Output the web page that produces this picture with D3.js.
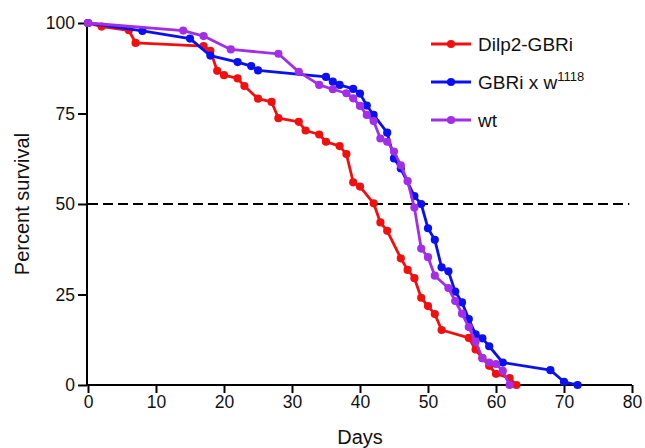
<!DOCTYPE html>
<html>
<head>
<meta charset="utf-8">
<script src="https://cdn.jsdelivr.net/npm/d3@7"></script>
<style>
  body { margin: 0; background: #fff; }
  svg text { font-family: Arial, "Liberation Sans", sans-serif; fill: #111; }
</style>
</head>
<body>
<div id="chart"></div>
<script>

// days / percent survival
const dilpDays = [0, 2, 6, 7, 17, 18, 19, 20, 22, 23, 25, 27, 28, 31, 32, 34, 35, 37, 38, 39, 40, 42, 43, 44, 46, 47, 48, 49, 50, 51, 52, 56, 57, 58, 59, 60, 62, 63];
const dilpSurv = [100, 99, 98, 94.5, 93.6, 92.3, 86.8, 85.6, 84.7, 82.6, 79.1, 78.2, 73.7, 72.7, 70.3, 69.2, 67.2, 66, 63.8, 56, 54.8, 50.2, 44.9, 42.6, 35, 31.8, 29.5, 24.1, 21.8, 19.6, 15.2, 13, 9.8, 7.4, 5.3, 3.1, 1.9, 0];

const gbriDays = [0, 8, 15, 18, 22, 24, 25, 35, 36, 37, 39, 40, 41, 42, 44, 45, 46, 48, 49, 50, 51, 52, 53, 54, 55, 56, 57, 58, 59, 61, 68, 70, 72];
const gbriSurv = [100, 97.8, 95.7, 91, 89.2, 88.1, 86.9, 85.1, 83.8, 82.9, 81.8, 80.5, 77.2, 74.6, 69.7, 62.6, 59.8, 52.2, 50, 43.3, 40.1, 32.5, 31.4, 25.8, 22.8, 18.2, 14, 12.9, 10.7, 6.2, 4.1, 0.9, 0];

const wtDays = [0, 14, 17, 21, 28, 31, 34, 36, 38, 39, 40, 41, 42, 43, 44, 45, 46, 47, 48, 49, 50, 51, 53, 54, 55, 56, 57, 58, 59, 60, 61, 62];
const wtSurv = [100, 97.9, 96.4, 92.7, 91.5, 86.5, 82.9, 81.7, 80.6, 79.2, 77.1, 74.6, 72.9, 68.1, 67.2, 64.5, 60.7, 56.3, 49, 37.7, 35.3, 30.2, 26.8, 23.2, 19.7, 16, 12, 7.4, 6.2, 5.8, 3.9, 0];

const xTicks = [0, 10, 20, 30, 40, 50, 60, 70, 80];
const yTicks = [0, 25, 50, 75, 100];
const medianLine = 50;

const seriesNames  = ['Dilp2-GBRi', 'GBRi x w', 'wt'];
const seriesColors = ['#f01010', '#0a10f0', '#a22ee6'];

class SurvivalChart {

  constructor(_config) {
    this.config = {
      parentElement : _config.parentElement,
      width         : 645,
      height        : 448,
      margin        : { t: 23, r: 13, b: 63, l: 88 }
    };
    this.series = _config.series;
    this.initVis();
  }

  initVis() {
    const { width, height, margin } = this.config;
    this.svg = d3.select(this.config.parentElement)
                 .append('svg')
                 .attr('width', width)
                 .attr('height', height);

    this.x = d3.scaleLinear()
               .domain([0, 80])
               .range([margin.l, width - margin.r]);
    this.y = d3.scaleLinear()
               .domain([0, 100])
               .range([height - margin.b, margin.t]);
  }

  updateVis() {
    const { x, y } = this;
    const { height } = this.config;

    // dashed 50% line
    this.svg.append('line')
        .attr('x1', x(0)).attr('x2', x(79.6))
        .attr('y1', y(medianLine)).attr('y2', y(medianLine))
        .attr('stroke', '#000')
        .attr('stroke-width', 2)
        .attr('stroke-dasharray', '10,5');

    // ----- AXES -----
    const xAxis = this.svg.append('g')
        .attr('transform', `translate(0,${y(0)})`)
        .call(d3.axisBottom(x).tickValues(xTicks).tickSize(8).tickPadding(3));
    const yAxis = this.svg.append('g')
        .attr('transform', `translate(${x(0) - 1},0)`)
        .call(d3.axisLeft(y).tickValues(yTicks).tickSize(9).tickPadding(3));

    [xAxis, yAxis].forEach(g => {
      g.select('.domain').attr('stroke', '#000').attr('stroke-width', 2);
      g.selectAll('.tick line').attr('stroke', '#000').attr('stroke-width', 2);
      g.selectAll('.tick text')
          .attr('font-size', 17.5)
          .attr('font-family', 'Arial, "Liberation Sans", sans-serif')
          .attr('fill', '#111');
    });
    // flat ends on the axis lines
    xAxis.select('.domain').attr('d', `M${x(0) - 2},0H${x(80)}`);
    yAxis.select('.domain').attr('d', `M0,${y(100)}V${y(0) + 1}`);

    this.svg.append('text')
        .attr('x', x(40)).attr('y', height - 4)
        .attr('text-anchor', 'middle')
        .attr('font-size', 20)
        .text('Days');

    this.svg.append('text')
        .attr('transform', `translate(29,${y(50)}) rotate(-90)`)
        .attr('text-anchor', 'middle')
        .attr('font-size', 20)
        .text('Percent survival');

    // ----- CURVES -----
    const line = d3.line().x(d => x(d.day)).y(d => y(d.surv));

    this.series.forEach(s => {
      const g = this.svg.append('g').attr('class', 'series');
      g.append('path')
          .datum(s.points)
          .attr('fill', 'none')
          .attr('stroke', s.color)
          .attr('stroke-width', 2.8)
          .attr('stroke-linejoin', 'round')
          .attr('d', line);
      g.selectAll('circle')
          .data(s.points)
          .join('circle')
            .attr('cx', d => x(d.day))
            .attr('cy', d => y(d.surv))
            .attr('r', 4.1)
            .attr('fill', s.color);
    });

    // ----- LEGEND -----
    const legend = this.svg.append('g').attr('transform', 'translate(431,44)');
    this.series.forEach((s, i) => {
      const row = legend.append('g').attr('transform', `translate(0,${i * 38})`);
      row.append('line')
          .attr('x1', 0).attr('x2', 40)
          .attr('stroke', s.color).attr('stroke-width', 2.8);
      row.append('circle').attr('cx', 20).attr('r', 4.1).attr('fill', s.color);
      const t = row.append('text')
          .attr('x', 47).attr('y', 7)
          .attr('font-size', 19)
          .text(s.name);
      if (i === 1) {
        t.append('tspan')
            .attr('dy', -8)
            .attr('font-size', 13)
            .text('1118');
      }
    });
  }
}

const series = [
  { name: seriesNames[0], color: seriesColors[0], points: dilpDays.map((d, i) => ({ day: d, surv: dilpSurv[i] })) },
  { name: seriesNames[1], color: seriesColors[1], points: gbriDays.map((d, i) => ({ day: d, surv: gbriSurv[i] })) },
  { name: seriesNames[2], color: seriesColors[2], points: wtDays.map((d, i) => ({ day: d, surv: wtSurv[i] })) }
];

const chart = new SurvivalChart({ parentElement: '#chart', series });
chart.updateVis();
</script>
</body>
</html>
